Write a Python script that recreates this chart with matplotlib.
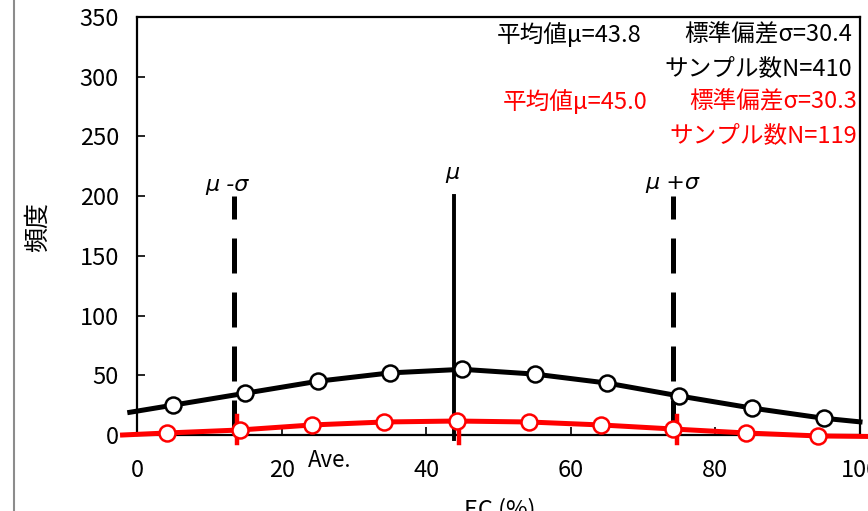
import matplotlib
matplotlib.use("Agg")
import matplotlib.pyplot as plt
from matplotlib.lines import Line2D

plt.rcParams["font.family"] = ["Noto Sans CJK JP", "DejaVu Sans"]

# all samples (black)
all_x = [-1, 5, 15, 25, 35, 45, 55, 65, 75, 85, 95, 100]
all_y = [19, 25, 35, 45, 52, 55, 51, 43.5, 32.7, 22.6, 14, 11]
all_mu = 43.8
all_sd = 30.4

# subset (red)
sub_x = [-2, 4.2, 14.2, 24.2, 34.2, 44.2, 54.2, 64.2, 74.2, 84.2, 94.2, 101]
sub_y = [0, 1.7, 4.2, 8.4, 10.9, 11.7, 10.9, 8.4, 5.0, 1.7, -0.8, -1.2]
sub_lines = [13.9, 44.5, 74.7]

x_ticks = [0, 20, 40, 60, 80, 100]
y_ticks = [0, 50, 100, 150, 200, 250, 300, 350]

RED = "#ff0000"

fig = plt.figure(figsize=(8.68, 5.11), dpi=100)
ax = fig.add_axes([137 / 868, 76 / 511, 723 / 868, 418 / 511])

# sigma lines
ax.plot([all_mu - all_sd] * 2, [0, 200], color="black", lw=3.6,
        linestyle=(0, (7, 3.8)), zorder=2)
ax.plot([all_mu + all_sd] * 2, [0, 200], color="black", lw=3.6,
        linestyle=(0, (7, 3.8)), zorder=2)
ax.plot([all_mu] * 2, [-3, 200], color="black", lw=2.8, zorder=2, clip_on=False)
for xv in sub_lines:
    ax.plot([xv, xv], [-6.5, 16], color=RED, lw=3.2, zorder=3, clip_on=False)

ax.plot(all_x, all_y, color="black", lw=3.6, marker="o", ms=11.5,
        mfc="white", mec="black", mew=1.8, markevery=slice(1, -1),
        zorder=4, clip_on=False)
ax.plot(sub_x, sub_y, color=RED, lw=3.6, marker="o", ms=11.5,
        mfc="white", mec=RED, mew=1.8, markevery=slice(1, -1),
        zorder=5, clip_on=False)

ax.set_xlim(0, 100)
ax.set_ylim(0, 350)
ax.set_xticks(x_ticks)
ax.set_yticks(y_ticks)
ax.tick_params(direction="in", length=6, width=1.2, labelsize=17, colors="black")
ax.tick_params(axis="y", pad=13)
ax.tick_params(axis="x", pad=17)
for s in ax.spines.values():
    s.set_linewidth(1.6)

# statistics text
ax.text(49.8, 335, "平均値μ=43.8", fontsize=17, ha="left", va="center")
ax.text(98.9, 335, "標準偏差σ=30.4", fontsize=17, ha="right", va="center")
ax.text(98.9, 306.5, "サンプル数N=410", fontsize=17, ha="right", va="center")
ax.text(50.6, 279, "平均値μ=45.0", fontsize=17, ha="left", va="center", color=RED)
ax.text(99.6, 279, "標準偏差σ=30.3", fontsize=17, ha="right", va="center", color=RED)
ax.text(99.6, 250.4, "サンプル数N=119", fontsize=17, ha="right", va="center", color=RED)

ax.text(12.4, 209, "μ -σ", fontsize=16, style="italic", ha="center", va="center",
        family="DejaVu Sans")
ax.text(43.6, 219, "μ", fontsize=16, style="italic", ha="center", va="center",
        family="DejaVu Sans")
ax.text(74.1, 211, "μ +σ", fontsize=16, style="italic", ha="center", va="center",
        family="DejaVu Sans")
ax.text(26.7, -21, "Ave.", fontsize=16, ha="center", va="center", clip_on=False)

fig.text(38 / 868, 1 - 227 / 511, "頻度", rotation=90, fontsize=18,
         ha="center", va="center")
fig.text(500 / 868, 13 / 511, "EC (%)", fontsize=17, ha="center", va="top")

fig.add_artist(Line2D([14 / 868, 14 / 868], [0, 1], color="#8c8c8c", lw=1.5))

fig.savefig("out.png", dpi=100)
